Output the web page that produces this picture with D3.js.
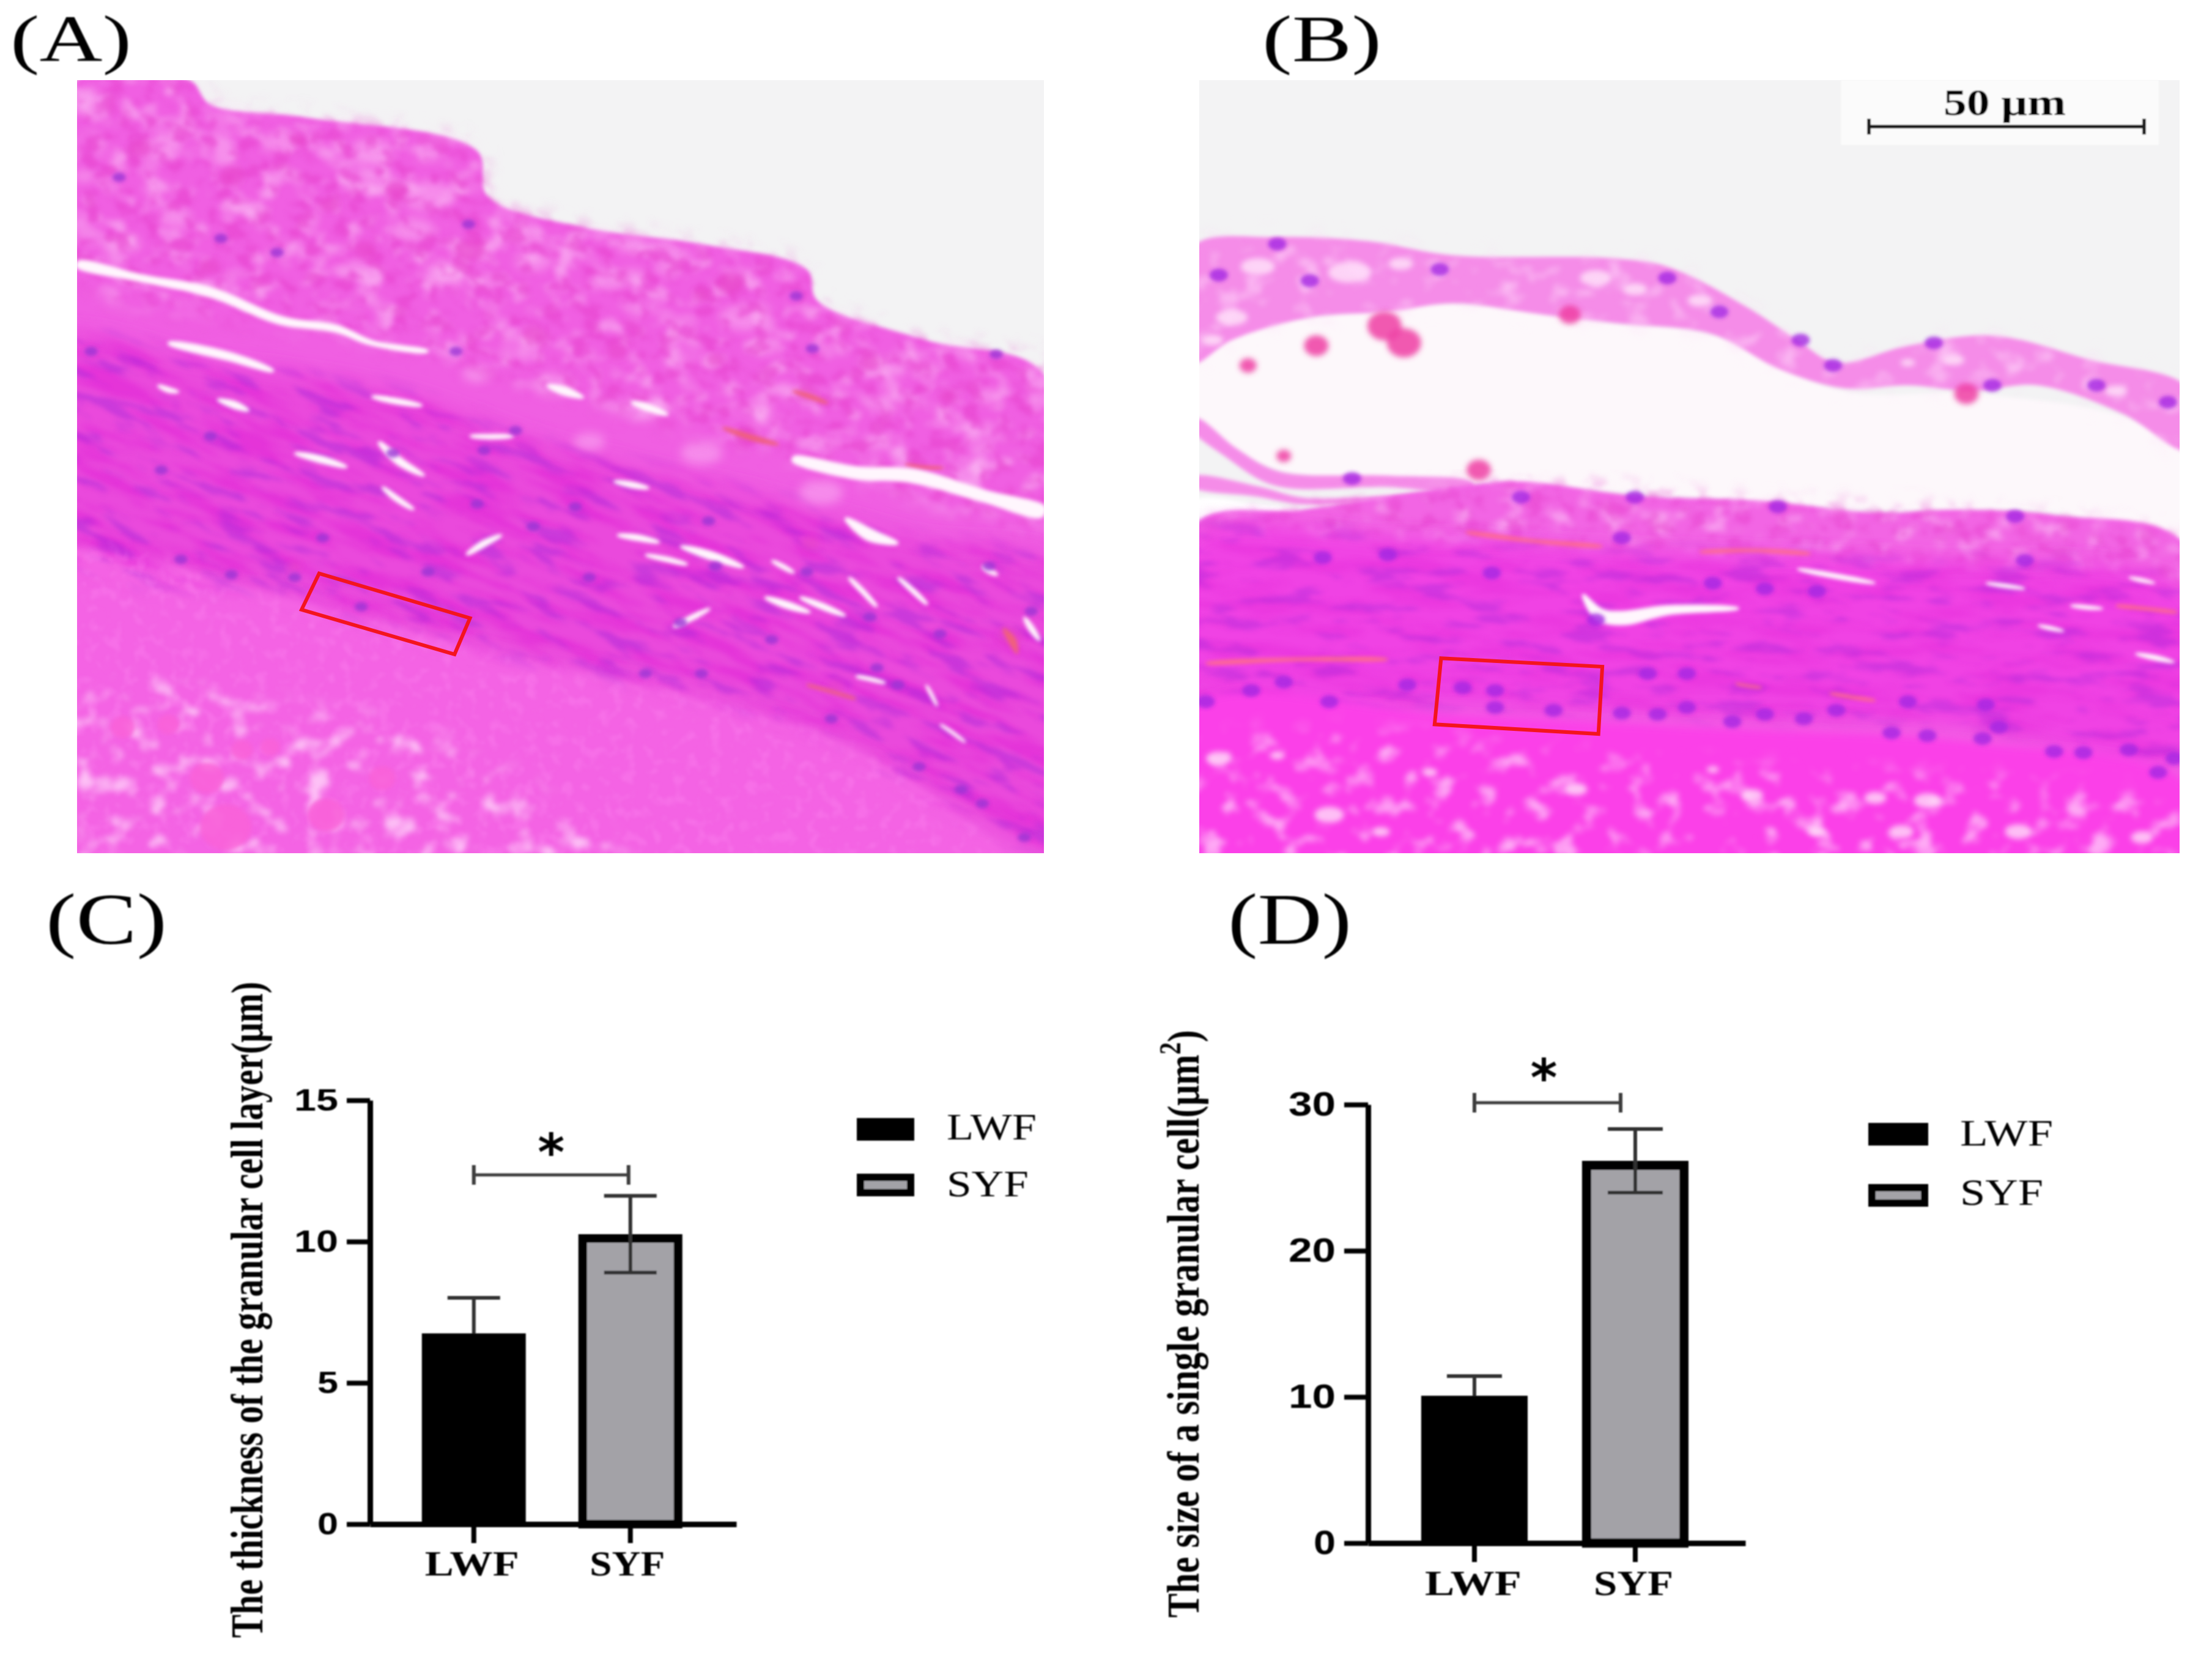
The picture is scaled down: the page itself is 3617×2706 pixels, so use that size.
<!DOCTYPE html>
<html>
<head>
<meta charset="utf-8">
<script src="https://cdn.jsdelivr.net/npm/d3@7"></script>
<style>
html, body { margin: 0; padding: 0; background: #ffffff; }
svg { display: block; }
</style>
</head>
<body>
<script>
var width = 3617;
var height = 2706;

// chart values
var categories = ["LWF", "SYF"];
var thicknessMeans = [6.75, 10.26];
var thicknessErrors = [1.26, 1.36];
var thicknessTicks = [0, 5, 10, 15];
var sizeMeans = [10.08, 26.15];
var sizeErrors = [1.34, 2.18];
var sizeTicks = [0, 10, 20, 30];
var barColors = ["#000000", "#a3a2a7"];

// micrograph drawing, in the panel's own sketch units
var tissueA = [[110,140],[270,140],[300,183],[430,205],[680,265],[695,345],[830,400],[1000,430],[1150,475],[1165,530],[1320,600],[1488,660],[1530,1100],[1488,1540],[110,1540],[70,800]];
var upperA = [[90,140],[270,140],[300,183],[430,205],[680,265],[695,345],[830,400],[1000,430],[1150,475],[1165,530],[1320,600],[1530,660],[1530,920],[1100,800],[560,610],[90,470]];
var midLayerA = [[70,600],[300,640],[560,690],[800,790],[1100,880],[1300,950],[1530,1010],[1530,1508],[1350,1420],[1200,1310],[1000,1230],[700,1150],[400,1050],[70,970]];
var yolkA = [[70,985],[400,1055],[700,1155],[1000,1235],[1200,1315],[1350,1425],[1440,1540],[70,1540]];
var yolkHolesA = [[70,1230],[500,1260],[720,1360],[900,1540],[70,1540]];
var slitsA = [
  [[110,465,12],[200,490,14],[300,515,18],[400,565,16],[480,580,14],[530,605,10],[610,620,5]],
  [[240,605,5],[330,630,16],[390,655,4]],
  [[1130,810,10],[1220,835,24],[1300,840,26],[1400,875,22],[1488,905,20]],
  [[1205,915,4],[1240,945,22],[1280,960,4]],
  [[540,780,4],[570,815,14],[605,840,3]], [[420,800,3],[460,812,14],[495,825,3]],
  [[310,705,3],[335,715,14],[355,725,3]], [[225,680,3],[240,688,10],[255,692,3]],
  [[545,860,3],[565,880,10],[590,900,3]], [[665,980,3],[690,960,12],[715,945,3]],
  [[875,850,3],[900,856,12],[925,862,3]], [[880,945,3],[910,950,12],[940,958,3]],
  [[970,965,3],[1015,982,16],[1060,1002,3]], [[920,980,3],[950,988,10],[980,997,3]],
  [[1090,1055,3],[1120,1068,14],[1155,1082,3]], [[1140,1055,3],[1170,1070,12],[1205,1088,3]],
  [[1210,1020,3],[1230,1045,9],[1250,1072,3]], [[1280,1020,3],[1300,1042,9],[1322,1068,3]],
  [[960,1108,3],[985,1092,10],[1012,1075,3]], [[1100,990,3],[1115,1000,9],[1132,1012,3]],
  [[1220,1195,3],[1240,1200,8],[1262,1207,3]], [[1320,1210,2],[1328,1228,6],[1336,1248,2]],
  [[1340,1280,2],[1358,1295,6],[1376,1312,2]], [[1400,1000,3],[1410,1008,10],[1422,1016,3]],
  [[1460,1090,3],[1470,1110,10],[1482,1132,3]], [[670,770,3],[700,771,10],[732,770,3]],
  [[530,700,3],[565,708,12],[602,716,3]], [[780,680,3],[805,690,16],[832,702,3]],
  [[900,710,3],[925,720,14],[952,732,3]]
];
var lightA = [[130,180,32],[260,225,26],[400,250,30],[530,265,36],[610,345,44],[590,405,34],[640,480,30],[250,385,26],[180,430,24],[760,460,30],[900,430,26],[1060,560,38],[900,490,26],[1090,610,26],[790,680,34],[920,720,36],[1000,800,34],[1170,870,36],[840,780,26],[120,310,18],[680,660,24],[1320,650,20],[1410,700,22],[1250,780,24]];
var nucleiA = [[170,312],[315,420],[395,445],[668,395],[1135,522],[1158,615],[1420,625],[258,988],[330,1015],[420,1020],[515,1072],[1185,1270],[1310,1355],[1370,1395],[1400,1420],[1460,1480],[650,620],[690,795],[735,760],[1010,920],[1020,1000],[970,1100],[820,895],[680,890],[560,800],[130,620],[300,770],[1100,1130],[1280,1210],[1250,1180],[920,1190],[1000,1190],[1470,1080],[1410,1000],[1340,1120],[840,1020],[760,930],[610,1010],[460,950],[230,830],[1150,1010],[1240,1090]];
var pinkCellsA = [[425,245,14],[565,335,18],[670,440,24],[1040,500,22],[1000,520,14],[420,1000,10],[1020,635,14],[1150,695,18],[1065,770,20],[1310,820,14],[1155,960,14],[1440,1125,20],[1190,1215,14],[200,260,18],[330,310,20],[470,360,16],[520,440,18],[300,470,16],[760,590,18],[880,620,16],[1240,640,16],[1350,700,14]];
var redStreaksA = [[[1030,755,2],[1070,772,10],[1110,785,2]], [[1130,690,2],[1155,700,8],[1180,712,2]], [[1290,820,2],[1315,825,6],[1345,826,2]], [[1430,1110,2],[1442,1130,12],[1450,1155,2]], [[1150,1210,2],[1185,1222,5],[1220,1235,2]]];
var blobsA = [[175,1285,20],[240,1280,18],[295,1375,28],[345,1325,18],[385,1320,16],[545,1375,22],[322,1462,42],[465,1440,30]];
var boxA = [[455,1013],[670,1092],[648,1156],[430,1077]];

var membraneB = [[0,435],[130,418],[270,425],[400,450],[640,455],[730,470],[850,540],[930,600],[990,640],[1100,610],[1230,592],[1380,635],[1530,685],[1530,795],[1430,730],[1300,680],[1200,690],[1100,680],[1000,685],[900,650],[800,590],[650,570],[540,555],[400,535],[300,550],[180,560],[60,600],[0,640]];
var gapB = [[0,600],[180,560],[400,535],[650,570],[800,590],[1000,690],[1200,695],[1430,735],[1530,795],[1530,960],[1330,905],[1050,900],[680,870],[400,850],[130,830],[0,740]];
var strandsB = [
  [[0,745,18],[60,800,22],[130,845,26],[300,850,20],[430,860,16]],
  [[0,850,18],[100,868,18],[170,885,12],[300,880,8],[380,880,6]]
];
var whiteGapB = [[0,885],[100,890],[170,905],[100,925],[0,935]];
var bodyB = [[0,930],[170,900],[400,860],[500,850],[680,875],[880,885],[1050,905],[1180,900],[1330,910],[1530,965],[1530,1540],[0,1540]];
var topLayerB = [[0,930],[170,900],[500,850],[880,885],[1180,900],[1530,965],[1530,1040],[700,975],[0,950]];
var darkLayerB = [[0,950],[300,950],[700,975],[1100,990],[1530,1050],[1530,1340],[1200,1290],[800,1270],[400,1250],[0,1235]];
var yolkBandB = [[0,1250],[400,1262],[800,1285],[1200,1310],[1530,1385],[1530,1540],[0,1540]];
var yolkHolesB = [[0,1330],[800,1350],[1530,1440],[1530,1540],[0,1540]];
var slitsB = [
  [[600,1050,3],[625,1085,22],[660,1092,26],[730,1078,18],[840,1075,3]],
  [[930,1005,2],[990,1018,10],[1050,1030,2]], [[1300,1105,2],[1320,1110,8],[1340,1115,2]],
  [[1350,1070,2],[1375,1073,8],[1400,1075,2]], [[1440,1020,2],[1460,1025,8],[1480,1030,2]],
  [[1450,1155,2],[1480,1162,10],[1510,1170,2]], [[1220,1030,2],[1250,1035,8],[1280,1040,2]]
];
var redStreaksB = [[[20,1172,2],[160,1165,6],[300,1165,2]], [[420,940,2],[520,955,6],[630,965,2]], [[780,975,2],[860,972,6],[950,978,2]], [[1420,1070,2],[1470,1076,6],[1515,1082,2]], [[980,1225,2],[1015,1232,6],[1050,1238,2]], [[835,1208,2],[855,1212,5],[875,1215,2]]];
var lightMembraneB = [[100,470,28],[240,480,34],[320,465,20],[620,490,26],[680,510,20],[780,530,20],[1100,640,12],[1170,635,18],[1420,690,18],[60,560,26],[30,600,18]];
var nucleiB = [[130,430],[40,485],[180,495],[380,475],[730,490],[810,550],[935,600],[985,645],[1140,605],[1390,680],[1500,710],[1230,680],[505,878],[680,878],[900,895],[1265,912],[245,845],[460,1012],[660,950],[20,1240],[90,1220],[140,1205],[210,1240],[330,1210],[415,1215],[465,1250],[465,1220],[555,1255],[660,1260],[715,1262],[760,1250],[830,1275],[880,1262],[940,1270],[990,1255],[1075,1295],[1130,1300],[1215,1305],[1240,1285],[1325,1328],[1370,1330],[1440,1325],[1485,1365],[1510,1340],[800,1030],[880,1040],[960,1045],[620,1095],[300,980],[200,985],[1280,990],[1100,1240],[1220,1245],[700,1190],[760,1190]];
var clotsB = [[295,575,28],[325,605,28],[190,610,20],[85,645,14],[580,555,18],[440,830,20],[140,805,12],[810,930,25],[1100,945,24],[1295,965,28],[1190,695,20]];
var holesB = [[40,1340,20],[130,1335,12],[210,1440,24],[290,1470,14],[365,1365,12],[590,1395,18],[860,1405,18],[1050,1410,18],[1130,1415,22],[1090,1470,20],[960,1470,14],[1270,1470,22],[1460,1480,18],[800,1360,10]];
var boxB = [[382,1163],[630,1178],[624,1297],[372,1280]];

var svg = d3.select("body")
  .append("svg")
  .attr("width", width)
  .attr("height", height)
  .attr("viewBox", "0 0 " + width + " " + height);
var defs = svg.append("defs");

function addBlur(id, amount) {
  defs.append("filter")
    .attr("id", id)
    .attr("x", "-10%").attr("y", "-10%")
    .attr("width", "120%").attr("height", "120%")
    .append("feGaussianBlur")
    .attr("stdDeviation", amount);
}
addBlur("soft", 1.3);
addBlur("blur3", 3);
addBlur("blur5", 5);
addBlur("blur8", 8);
addBlur("blur16", 16);

// turbulence stands in for the stain texture
function addMottle(id, freq, seed, matrix, blur) {
  var f = defs.append("filter")
    .attr("id", id)
    .attr("x", 0).attr("y", 0)
    .attr("width", "100%").attr("height", "100%")
    .attr("color-interpolation-filters", "sRGB");
  f.append("feTurbulence")
    .attr("type", "fractalNoise")
    .attr("baseFrequency", freq)
    .attr("numOctaves", 3)
    .attr("seed", seed);
  f.append("feColorMatrix")
    .attr("type", "matrix")
    .attr("values", matrix);
  f.append("feGaussianBlur").attr("stdDeviation", blur);
}
var whiteMatrix = "0 0 0 0 1  0 0 0 0 0.85  0 0 0 0 0.98  4 0 0 0 -2.1";
var purpleMatrix = "0 0 0 0 0.62  0 0 0 0 0.14  0 0 0 0 0.85  6 0 0 0 -3.2";
var deepMatrix = "0 0 0 0 0.88  0 0 0 0 0.14  0 0 0 0 0.84  4 0 0 0 -1.8";
addMottle("whiteCoarse", "0.012 0.02", 4, whiteMatrix, 5);
addMottle("whiteFine", "0.024 0.03", 9, whiteMatrix, 4);
addMottle("purpleStreak", "0.012 0.05", 12, purpleMatrix, 3);
addMottle("deepStreak", "0.008 0.04", 21, deepMatrix, 3);
addMottle("cellShade", "0.03 0.04", 17, "0 0 0 0 0.9  0 0 0 0 0.25  0 0 0 0 0.8  5 0 0 0 -2.5", 3);
addMottle("yolkGrain", "0.05 0.05", 30, "0 0 0 0 1  0 0 0 0 0.55  0 0 0 0 0.95  4 0 0 0 -2", 2);

var outline = d3.line().curve(d3.curveCatmullRomClosed.alpha(0.5));
var crispOutline = d3.line().curve(d3.curveLinearClosed);

function drawMicrograph(name, sx, sy, parts) {
  var toPx = function (p) { return [sx(p[0]), sy(p[1])]; };
  var g = svg.append("g").attr("class", "micrograph " + name);
  var px0 = sx(sx.domain()[0]), px1 = sx(sx.domain()[1]), py0 = sy(sy.domain()[0]), py1 = sy(sy.domain()[1]);

  defs.append("clipPath").attr("id", "frame" + name)
    .append("rect")
    .attr("x", px0).attr("y", py0)
    .attr("width", px1 - px0).attr("height", py1 - py0);
  var inner = g.append("g").attr("clip-path", "url(#frame" + name + ")");
  inner.append("rect")
    .attr("x", px0).attr("y", py0)
    .attr("width", px1 - px0).attr("height", py1 - py0)
    .attr("fill", "#f3f3f4");

  var nMask = 0;
  function polygon(points, fill, blur) {
    return inner.append("path")
      .attr("d", outline(points.map(toPx)))
      .attr("fill", fill)
      .attr("filter", blur ? "url(#" + blur + ")" : null);
  }
  // noise rect seen through a feathered mask, so zones melt into each other
  function texture(points, filterId, angle, opacity) {
    var id = name + "mask" + (nMask++);
    defs.append("mask")
      .attr("id", id)
      .attr("maskUnits", "userSpaceOnUse")
      .attr("x", px0 - 50).attr("y", py0 - 50)
      .attr("width", px1 - px0 + 100).attr("height", py1 - py0 + 100)
      .append("path")
      .attr("d", outline(points.map(toPx)))
      .attr("fill", "#ffffff")
      .attr("filter", "url(#blur16)");
    var cx = (px0 + px1) / 2, cy = (py0 + py1) / 2, size = px1 - px0 + 500;
    inner.append("g")
      .attr("mask", "url(#" + id + ")")
      .append("rect")
      .attr("x", cx - size / 2).attr("y", cy - size / 2)
      .attr("width", size).attr("height", size)
      .attr("transform", "rotate(" + angle + " " + cx + " " + cy + ")")
      .attr("filter", "url(#" + filterId + ")")
      .attr("opacity", opacity);
  }
  parts({ polygon: polygon, texture: texture, inner: inner, toPx: toPx });
}

// a slit is a run of [x, y, thickness]; it tapers with the thickness
function slitPath(ctx, run) {
  var left = [], right = [];
  run.forEach(function (p, i) {
    var a = run[Math.max(i - 1, 0)], b = run[Math.min(i + 1, run.length - 1)];
    var dx = b[0] - a[0], dy = b[1] - a[1], n = Math.sqrt(dx * dx + dy * dy);
    left.push([p[0] + dy / n * p[2] / 2, p[1] - dx / n * p[2] / 2]);
    right.unshift([p[0] - dy / n * p[2] / 2, p[1] + dx / n * p[2] / 2]);
  });
  return outline(left.concat(right).map(ctx.toPx));
}

function drawSlits(ctx, list, fill, blur) {
  ctx.inner.append("g")
    .attr("filter", "url(#" + blur + ")")
    .selectAll("path")
    .data(list)
    .enter()
    .append("path")
    .attr("d", function (d) { return slitPath(ctx, d); })
    .attr("fill", fill);
}

function drawDots(ctx, list, fill, r, opacity, blur, squash) {
  ctx.inner.append("g")
    .attr("filter", "url(#" + blur + ")")
    .selectAll("ellipse")
    .data(list)
    .enter()
    .append("ellipse")
    .attr("cx", function (d) { return ctx.toPx(d)[0]; })
    .attr("cy", function (d) { return ctx.toPx(d)[1]; })
    .attr("rx", function (d) { return d.length > 2 ? d[2] : r; })
    .attr("ry", function (d) { return (d.length > 2 ? d[2] : r) * squash; })
    .attr("fill", fill)
    .attr("opacity", opacity);
}

function drawBox(ctx, points) {
  ctx.inner.append("path")
    .attr("d", crispOutline(points.map(ctx.toPx)))
    .attr("fill", "none")
    .attr("stroke", "#f4141e")
    .attr("stroke-width", 6);
}

var ySketch = d3.scaleLinear().domain([140, 1508]).range([131, 1395]);

drawMicrograph("A", d3.scaleLinear().domain([110, 1488]).range([126, 1707]), ySketch, function (ctx) {
  ctx.polygon(tissueA, "#f05fe2", "blur3");
  ctx.polygon(midLayerA, "#ea48dc", "blur16");
  ctx.polygon(yolkA, "#f464e4", "blur5");
  drawDots(ctx, lightA, "#fbb0f2", 20, 0.55, "blur8", 0.55);
  ctx.texture(upperA, "whiteCoarse", 20, 0.4);
  ctx.texture(upperA, "whiteFine", 20, 0.45);
  ctx.texture(upperA, "cellShade", 20, 0.55);
  ctx.texture(midLayerA, "deepStreak", 22, 0.55);
  ctx.texture(midLayerA, "purpleStreak", 22, 0.4);
  ctx.texture(yolkA, "yolkGrain", 0, 0.3);
  ctx.texture(yolkHolesA, "whiteFine", 0, 0.8);
  drawDots(ctx, blobsA, "#f962d8", 20, 0.85, "blur3", 0.9);
  drawDots(ctx, pinkCellsA, "#e845c8", 14, 0.55, "blur5", 0.8);
  drawSlits(ctx, redStreaksA, "#f0607c", "blur3");
  drawSlits(ctx, slitsA, "#fff6fd", "blur3");
  drawDots(ctx, nucleiA, "#9a35d4", 11, 0.8, "blur3", 0.7);
  drawBox(ctx, boxA);
});

drawMicrograph("B", d3.scaleLinear().domain([10, 1518]).range([1961, 3564]), ySketch, function (ctx) {
  ctx.polygon(gapB, "#fdf8fb", "blur3");
  ctx.polygon(membraneB, "#f58ce8", "blur3");
  drawDots(ctx, lightMembraneB, "#ffe6fa", 20, 0.8, "blur5", 0.5);
  ctx.texture(membraneB, "whiteFine", 8, 0.65);
  drawDots(ctx, clotsB, "#ef3ca2", 20, 0.85, "blur5", 0.85);
  drawSlits(ctx, strandsB, "#f58ce8", "blur3");
  ctx.polygon(whiteGapB, "#ffffff", "blur3");
  ctx.polygon(bodyB, "#f265e4", "blur3");
  ctx.texture(topLayerB, "whiteFine", 4, 0.5);
  ctx.texture(topLayerB, "cellShade", 4, 0.5);
  ctx.polygon(darkLayerB, "#f042e4", "blur16");
  ctx.texture(darkLayerB, "deepStreak", 4, 0.3);
  ctx.texture(darkLayerB, "purpleStreak", 4, 0.35);
  ctx.polygon(yolkBandB, "#fb40e8", "blur8");
  ctx.texture(yolkHolesB, "whiteFine", 0, 0.7);
  drawDots(ctx, holesB, "#ffe8fa", 16, 0.75, "blur5", 0.55);
  drawSlits(ctx, redStreaksB, "#ff6a8c", "blur3");
  drawSlits(ctx, slitsB, "#fff6fd", "blur3");
  drawDots(ctx, nucleiB, "#a424e2", 15, 0.8, "blur3", 0.7);
  drawBox(ctx, boxB);
});

// scale bar in panel B
var scaleBar = svg.append("g").attr("class", "scale-bar").attr("filter", "url(#soft)");
scaleBar.append("rect")
  .attr("x", 3010).attr("y", 131)
  .attr("width", 520).attr("height", 106)
  .attr("fill", "#fbfbfb");
scaleBar.append("text")
  .attr("x", 3278).attr("y", 188)
  .attr("text-anchor", "middle")
  .attr("font-family", "Liberation Serif")
  .attr("font-weight", "bold")
  .attr("font-size", 62)
  .attr("textLength", 200)
  .attr("lengthAdjust", "spacingAndGlyphs")
  .text("50 μm");
scaleBar.selectAll("path")
  .data([[[3056,207],[3506,207]], [[3056,194],[3056,220]], [[3506,194],[3506,220]]])
  .enter()
  .append("path")
  .attr("d", d3.line())
  .attr("stroke", "#1a1a1a")
  .attr("stroke-width", 6);

// panel letters; the top two run a bit smaller so they stay inside the page
var panelLetters = [
  { label: "(A)", x: 17, y: 100, w: 198, size: 108 },
  { label: "(B)", x: 2064, y: 100, w: 195, size: 108 },
  { label: "(C)", x: 75, y: 1543, w: 198, size: 118 },
  { label: "(D)", x: 2008, y: 1543, w: 202, size: 118 }
];
svg.append("g")
  .attr("filter", "url(#soft)")
  .selectAll("text")
  .data(panelLetters)
  .enter()
  .append("text")
  .attr("x", function (d) { return d.x; })
  .attr("y", function (d) { return d.y; })
  .attr("font-family", "Liberation Serif")
  .attr("font-size", function (d) { return d.size; })
  .attr("textLength", function (d) { return d.w; })
  .attr("lengthAdjust", "spacingAndGlyphs")
  .text(function (d) { return d.label; });

function drawBarPanel(cfg) {
  var g = svg.append("g").attr("class", "panel").attr("filter", "url(#soft)");
  var y = d3.scaleLinear().domain(cfg.domain).range(cfg.yRange);
  var x = d3.scaleBand()
    .domain(categories)
    .range(cfg.xRange)
    .paddingInner(cfg.paddingInner)
    .paddingOuter(cfg.paddingOuter)
    .align(cfg.align);
  var center = function (name) { return x(name) + x.bandwidth() / 2; };
  var rows = categories.map(function (c, i) {
    return { name: c, mean: cfg.means[i], err: cfg.errors[i], color: barColors[i] };
  });
  // the lower half of the whisker disappears inside the black bar
  var lowerInk = function (d) { return d.name == "LWF" ? "#000000" : "#333333"; };

  // bars go under the axes; grey one has a thick inset border
  g.selectAll("rect.bar")
    .data(rows)
    .enter()
    .append("rect")
    .attr("class", "bar")
    .attr("x", function (d) { return x(d.name) + (d.name == "SYF" ? cfg.border / 2 : 0); })
    .attr("y", function (d) { return y(d.mean) + (d.name == "SYF" ? cfg.border / 2 : 0); })
    .attr("width", function (d) { return x.bandwidth() - (d.name == "SYF" ? cfg.border : 0); })
    .attr("height", function (d) { return y(0) - y(d.mean) - (d.name == "SYF" ? cfg.border / 2 : 0); })
    .attr("fill", function (d) { return d.color; })
    .attr("stroke", "#000000")
    .attr("stroke-width", function (d) { return d.name == "SYF" ? cfg.border : 0; });

  // x axis
  var xAxis = g.append("g")
    .attr("transform", "translate(0," + y(0) + ")")
    .call(d3.axisBottom(x).tickSize(31).tickSizeOuter(0));
  xAxis.selectAll("text")
    .attr("x", function (d, i) { return cfg.xLabelShift[i]; })
    .attr("y", cfg.xLabelDrop)
    .attr("dy", 0)
    .attr("font-family", "Liberation Serif")
    .attr("font-weight", "bold")
    .attr("font-size", 58)
    .attr("textLength", function (d, i) { return cfg.xLabelWidths[i]; })
    .attr("lengthAdjust", "spacingAndGlyphs");

  // y axis
  var yAxis = g.append("g")
    .attr("transform", "translate(" + cfg.xRange[0] + ",0)")
    .call(d3.axisLeft(y).tickValues(cfg.ticks).tickSize(cfg.tickLength).tickSizeOuter(0).tickPadding(14));
  yAxis.selectAll("text")
    .attr("font-family", "Liberation Sans")
    .attr("font-weight", "bold")
    .attr("font-size", cfg.tickFont)
    .attr("textLength", function (d) { return String(d).length == 1 ? cfg.tickWidth1 : cfg.tickWidth2; })
    .attr("lengthAdjust", "spacingAndGlyphs");

  g.selectAll(".domain, .tick line")
    .attr("stroke", "#000000");
  g.selectAll(".domain").attr("stroke-width", 9);
  g.selectAll(".tick line").attr("stroke-width", 8);

  // error bars
  var errs = g.selectAll("g.err")
    .data(rows)
    .enter()
    .append("g")
    .attr("class", "err")
    .attr("stroke", "#333333")
    .attr("stroke-width", 6);
  errs.append("line")
    .attr("x1", function (d) { return center(d.name); })
    .attr("x2", function (d) { return center(d.name); })
    .attr("y1", function (d) { return y(d.mean); })
    .attr("y2", function (d) { return y(d.mean + d.err); });
  errs.append("line")
    .attr("x1", function (d) { return center(d.name); })
    .attr("x2", function (d) { return center(d.name); })
    .attr("y1", function (d) { return y(d.mean - d.err); })
    .attr("y2", function (d) { return y(d.mean); })
    .attr("stroke", lowerInk);
  errs.append("line")
    .attr("x1", function (d) { return center(d.name) - cfg.capHalf; })
    .attr("x2", function (d) { return center(d.name) + cfg.capHalf; })
    .attr("y1", function (d) { return y(d.mean + d.err); })
    .attr("y2", function (d) { return y(d.mean + d.err); });
  errs.append("line")
    .attr("x1", function (d) { return center(d.name) - cfg.capHalf; })
    .attr("x2", function (d) { return center(d.name) + cfg.capHalf; })
    .attr("y1", function (d) { return y(d.mean - d.err); })
    .attr("y2", function (d) { return y(d.mean - d.err); })
    .attr("stroke", lowerInk);

  // significance bracket
  var bx0 = center("LWF"), bx1 = center("SYF") - cfg.bracketShort;
  var bracket = g.append("g").attr("stroke", "#3d3d3d");
  bracket.append("line")
    .attr("x1", bx0).attr("x2", bx1)
    .attr("y1", cfg.bracketY).attr("y2", cfg.bracketY)
    .attr("stroke-width", 5);
  bracket.selectAll("line.end")
    .data([bx0, bx1])
    .enter()
    .append("line")
    .attr("class", "end")
    .attr("x1", function (d) { return d; })
    .attr("x2", function (d) { return d; })
    .attr("y1", cfg.bracketY - 16)
    .attr("y2", cfg.bracketY + 16)
    .attr("stroke-width", 6);
  g.append("text")
    .attr("x", (bx0 + bx1) / 2 + cfg.starShift)
    .attr("y", cfg.starY)
    .attr("text-anchor", "middle")
    .attr("font-family", "DejaVu Sans")
    .attr("font-weight", "bold")
    .attr("font-size", 84)
    .text("*");

  // legend
  var legend = g.selectAll("g.legend")
    .data(rows)
    .enter()
    .append("g")
    .attr("class", "legend");
  legend.append("rect")
    .attr("x", cfg.legendX + 6)
    .attr("y", function (d, i) { return cfg.legendY[i] + 6; })
    .attr("width", cfg.legendW - 12)
    .attr("height", 25)
    .attr("fill", function (d) { return d.color; })
    .attr("stroke", "#000000")
    .attr("stroke-width", 12);
  legend.append("text")
    .attr("x", cfg.legendTextX)
    .attr("y", function (d, i) { return cfg.legendY[i] + cfg.legendDrop[i]; })
    .attr("font-family", "Liberation Serif")
    .attr("font-size", 62)
    .attr("textLength", function (d, i) { return cfg.legendWidths[i]; })
    .attr("lengthAdjust", "spacingAndGlyphs")
    .text(function (d) { return d.name; });

  // rotated y label, squeezed to the measured length
  var label = g.append("text")
    .attr("font-family", "Liberation Serif")
    .attr("font-weight", "bold")
    .attr("font-size", 74);
  label.append("tspan").text(cfg.title);
  if (cfg.titleSup) {
    label.append("tspan").attr("dy", -30).attr("font-size", 50).text(cfg.titleSup);
    label.append("tspan").attr("dy", 30).text(")");
  }
  var len = label.node().getComputedTextLength();
  label.attr("transform", "translate(" + cfg.titleX + "," + cfg.titleBottom + ") rotate(-90) scale(" + (cfg.titleLength / len) + ",1)");
}

drawBarPanel({
  means: thicknessMeans,
  errors: thicknessErrors,
  ticks: thicknessTicks,
  domain: [0, 15],
  yRange: [2492, 1799],
  xRange: [605, 1204],
  paddingInner: 0.336,
  paddingOuter: 0.338,
  align: 0.49,
  border: 14,
  tickLength: 38,
  tickFont: 50,
  tickWidth1: 34,
  tickWidth2: 72,
  xLabelDrop: 84,
  xLabelShift: [-3, -5],
  xLabelWidths: [154, 123],
  capHalf: 43,
  bracketShort: 3,
  bracketY: 1921,
  starY: 1913,
  starShift: 0,
  legendX: 1401,
  legendY: [1828, 1919],
  legendW: 94,
  legendTextX: 1548,
  legendDrop: [35, 37],
  legendWidths: [147, 134],
  title: "The thickness of the granular cell layer(μm)",
  titleX: 429,
  titleBottom: 2678,
  titleLength: 1073
});

drawBarPanel({
  means: sizeMeans,
  errors: sizeErrors,
  ticks: sizeTicks,
  domain: [0, 30],
  yRange: [2523, 1806],
  xRange: [2237, 2854],
  paddingInner: 0.338,
  paddingOuter: 0.342,
  align: 0.483,
  border: 15,
  tickLength: 39,
  tickFont: 56,
  tickWidth1: 36,
  tickWidth2: 77,
  xLabelDrop: 85,
  xLabelShift: [-2, -3],
  xLabelWidths: [158, 130],
  capHalf: 45,
  bracketShort: 24,
  bracketY: 1803,
  starY: 1791,
  starShift: -6,
  legendX: 3055,
  legendY: [1836, 1936],
  legendW: 98,
  legendTextX: 3205,
  legendDrop: [37, 34],
  legendWidths: [152, 136],
  title: "The size of a single granular cell(μm",
  titleSup: "2",
  titleX: 1960,
  titleBottom: 2645,
  titleLength: 961
});
</script>
</body>
</html>
